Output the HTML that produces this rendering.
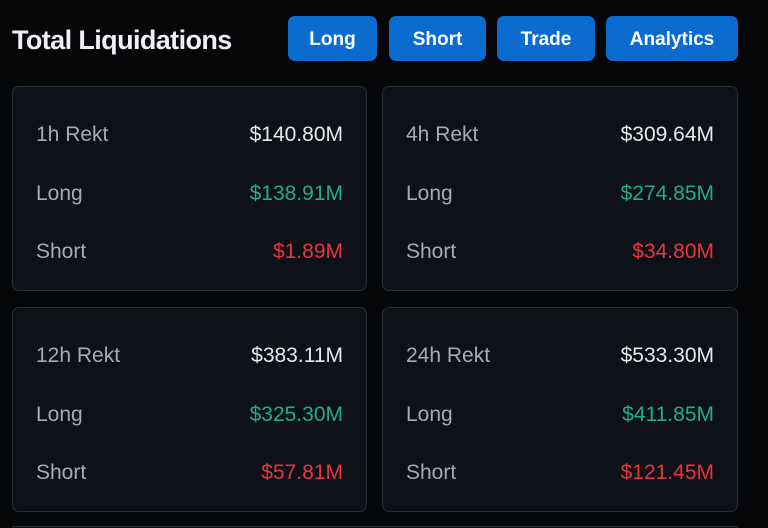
<!DOCTYPE html>
<html style="width:768px;height:528px;overflow:hidden"><head><style>
body{margin:0;width:768px;height:528px;background:#050608;overflow:hidden;font-family:"Liberation Sans",sans-serif;position:relative}
.t{position:absolute;left:12px;top:25px;font-size:27px;font-weight:bold;color:#eef0f3;letter-spacing:-0.6px}
.b{position:absolute;top:16px;height:45px;background:#0b6ccf;border-radius:7px;color:#fff;font-weight:bold;font-size:19px;line-height:47px;text-align:center}
.c{position:absolute;width:355px;height:205px;background:#0e1117;border:1px solid #2a2e35;border-radius:7px;box-sizing:border-box}
.r{position:absolute;left:23px;right:23px;font-size:21px;color:#a7abb2;display:flex;justify-content:space-between}
.r span:last-child{color:#e6e8eb}
.g span:last-child{color:#1fae8a}
.s span:last-child{color:#e83441}
</style></head><body>
<div class="t">Total Liquidations</div>
<div class="b" style="left:288px;width:89px">Long</div>
<div class="b" style="left:389px;width:97px">Short</div>
<div class="b" style="left:497px;width:98px">Trade</div>
<div class="b" style="left:606px;width:132px">Analytics</div>

<div class="c" style="left:12px;top:86px">
<div class="r" style="top:36px"><span>1h Rekt</span><span>$140.80M</span></div>
<div class="r g" style="top:95px"><span>Long</span><span>$138.91M</span></div>
<div class="r s" style="top:153px"><span>Short</span><span>$1.89M</span></div></div>
<div class="c" style="left:382px;top:86px;width:356px">
<div class="r" style="top:36px"><span>4h Rekt</span><span>$309.64M</span></div>
<div class="r g" style="top:95px"><span>Long</span><span>$274.85M</span></div>
<div class="r s" style="top:153px"><span>Short</span><span>$34.80M</span></div></div>
<div class="c" style="left:12px;top:307px">
<div class="r" style="top:36px"><span>12h Rekt</span><span>$383.11M</span></div>
<div class="r g" style="top:95px"><span>Long</span><span>$325.30M</span></div>
<div class="r s" style="top:153px"><span>Short</span><span>$57.81M</span></div></div>
<div class="c" style="left:382px;top:307px;width:356px">
<div class="r" style="top:36px"><span>24h Rekt</span><span>$533.30M</span></div>
<div class="r g" style="top:95px"><span>Long</span><span>$411.85M</span></div>
<div class="r s" style="top:153px"><span>Short</span><span>$121.45M</span></div></div>
<div class="c" style="left:12px;top:526px;width:726px;height:2px;border-bottom:none;border-radius:7px 7px 0 0"></div>
</body></html>
